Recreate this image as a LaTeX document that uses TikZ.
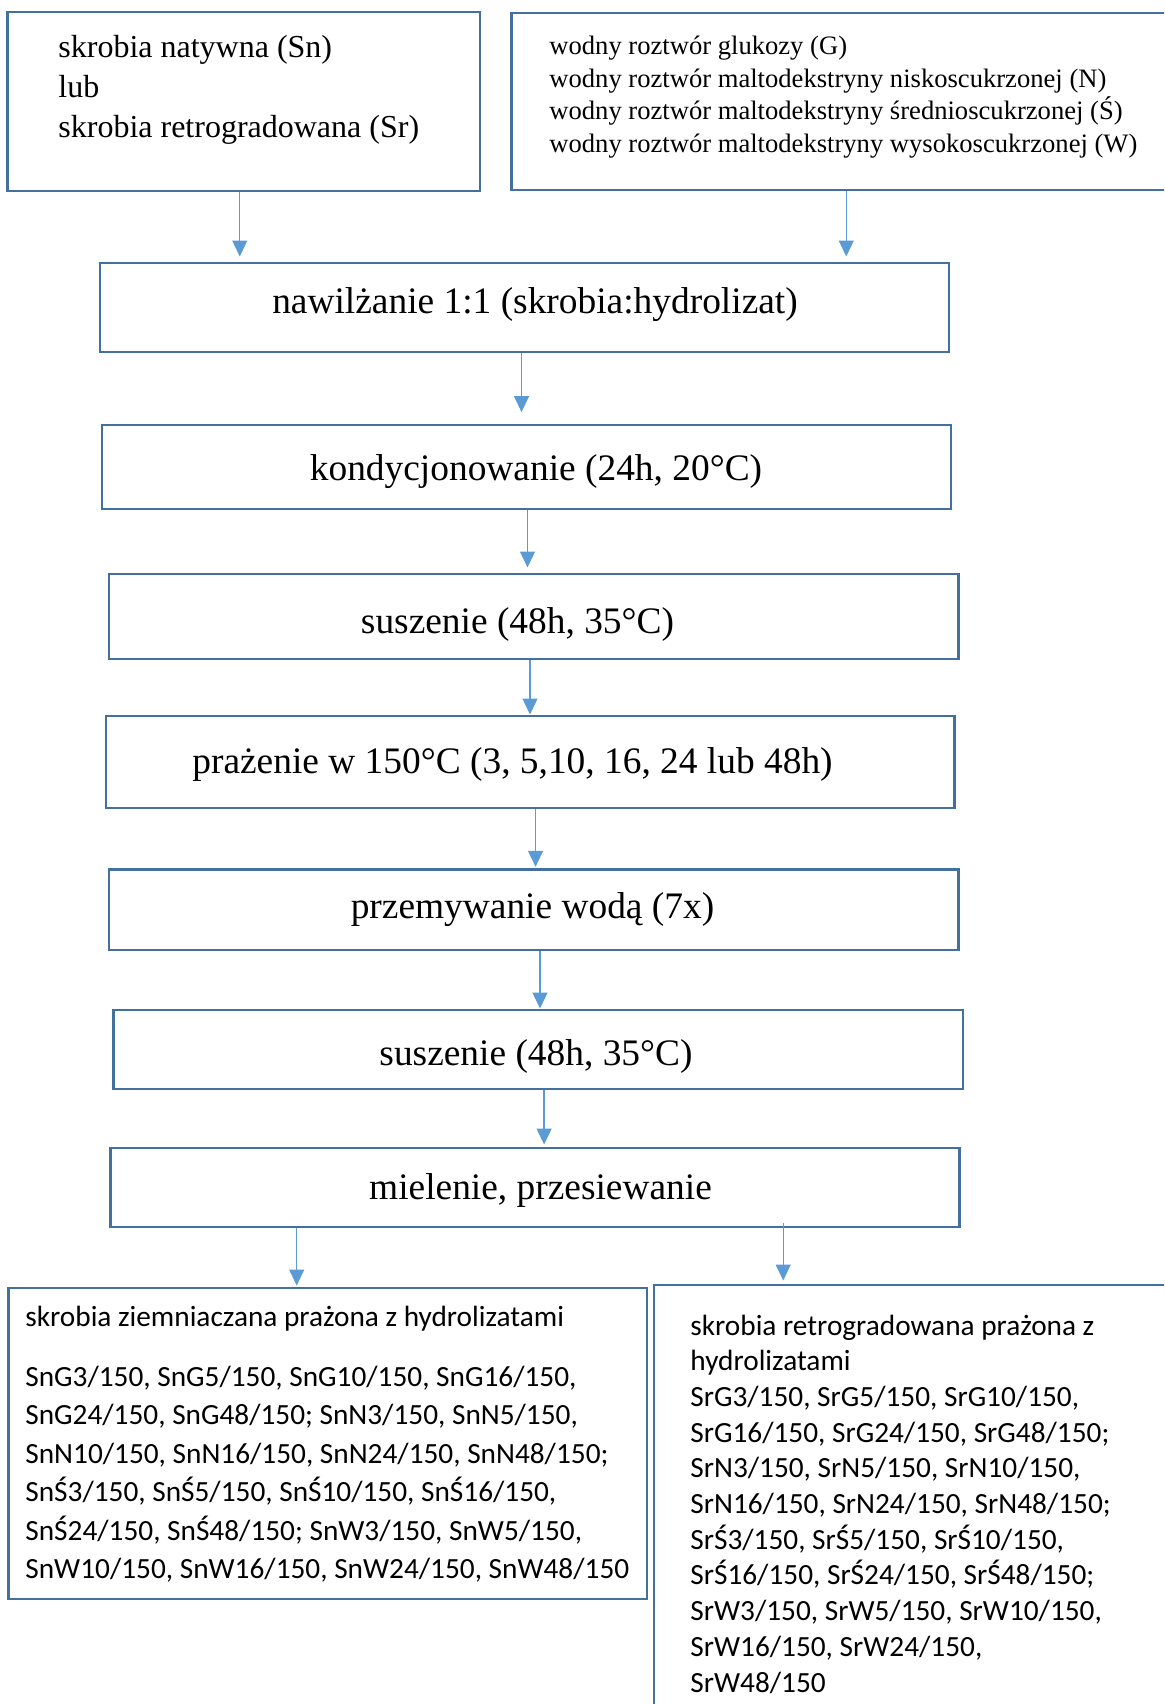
\documentclass[tikz,border=0pt]{standalone}
\usepackage{fontspec}
\usetikzlibrary{arrows.meta,calc}
\newfontfamily\tmsfont{Liberation Serif}
\newfontfamily\calibfont{Carlito}
\definecolor{boxc}{HTML}{41719C}
\definecolor{arrc}{HTML}{5B9BD5}
\tikzset{
  box/.style={draw=boxc, line width=1.2pt, inner sep=0pt, rectangle},
  arr/.style={draw=arrc, line width=0.65pt, -{Triangle[length=8pt,width=7.5pt]}},
  ptxt/.style={anchor=base, inner sep=0pt, font=\tmsfont\fontsize{18.7pt}{22pt}\selectfont},
  tl/.style={anchor=base west, inner sep=0pt, font=\tmsfont\fontsize{16pt}{19pt}\selectfont},
  tr/.style={anchor=base west, inner sep=0pt, font=\tmsfont\fontsize{13.3pt}{16pt}\selectfont},
  bt/.style={anchor=base west, inner sep=0pt, font=\calibfont\fontsize{14.65pt}{17.6pt}\selectfont}
}
\begin{document}
\begin{tikzpicture}[x=0.5pt,y=-0.5pt]
\useasboundingbox (0,0) rectangle (1164,1704);
\clip (0,0) rectangle (1164,1704);
% boxes
\node[box, minimum width=236.25pt, minimum height=89.5pt] (A) at (243.75,101.2) {};
\node[box, minimum width=334.25pt, minimum height=88.65pt] (B) at (845.75,101.35) {};
\node[box, minimum width=424.5pt, minimum height=44.5pt] (n1) at (524.5,307.2) {};
\node[box, minimum width=424.5pt, minimum height=42pt] (n2) at (526.3,467) {};
\node[box, minimum width=424.8pt, minimum height=42.5pt] (n3) at (533.5,616.5) {};
\node[box, minimum width=424.25pt, minimum height=46pt] (n4) at (530.05,761.7) {};
\node[box, minimum width=424.8pt, minimum height=40.35pt] (n5) at (533.5,909.65) {};
\node[box, minimum width=424.8pt, minimum height=39.65pt] (n6) at (538.1,1049.35) {};
\node[box, minimum width=424.55pt, minimum height=39.5pt] (n7) at (534.95,1187.5) {};
\node[box, minimum width=319.25pt, minimum height=155.5pt] (L) at (327.75,1443.5) {};
\node[box, minimum width=263pt, minimum height=217.5pt] (R) at (917,1502.5) {};
% top-left text
\node[tl] (a1) at (58,57) {skrobia natywna (Sn)};
\node[tl] (a2) at (58,97) {lub};
\node[tl] (a3) at (58,137) {skrobia retrogradowana (Sr)};
% top-right text
\node[tr] (b1) at (549,54) {wodny roztwór glukozy (G)};
\node[tr] (b2) at (549,87) {wodny roztwór maltodekstryny niskoscukrzonej (N)};
\node[tr] (b3) at (549,119.5) {wodny roztwór maltodekstryny średnioscukrzonej (Ś)};
\node[tr] (b4) at (549,152) {wodny roztwór maltodekstryny wysokoscukrzonej (W)};
% process texts
\node[ptxt] (t1) at (535,313) {nawilżanie 1:1 (skrobia:hydrolizat)};
\node[ptxt] (t2) at (536,480) {kondycjonowanie (24h, 20°C)};
\node[ptxt] (t3) at (517.5,633) {suszenie (48h, 35°C)};
\node[ptxt] (t4) at (512.5,773) {prażenie w 150°C (3, 5,10, 16, 24 lub 48h)};
\node[ptxt] (t5) at (532.5,918) {przemywanie wodą (7x)};
\node[ptxt] (t6) at (536,1065) {suszenie (48h, 35°C)};
\node[ptxt] (t7) at (540.5,1199) {mielenie, przesiewanie};
% bottom-left text
\node[bt] (l0) at (25,1326) {skrobia ziemniaczana prażona z hydrolizatami};
\node[bt] (l1) at (25,1386) {SnG3/150, SnG5/150, SnG10/150, SnG16/150,};
\node[bt] (l2) at (25,1424.5) {SnG24/150, SnG48/150; SnN3/150, SnN5/150,};
\node[bt] (l3) at (25,1463) {SnN10/150, SnN16/150, SnN24/150, SnN48/150;};
\node[bt] (l4) at (25,1501.5) {SnŚ3/150, SnŚ5/150, SnŚ10/150, SnŚ16/150,};
\node[bt] (l5) at (25,1540) {SnŚ24/150, SnŚ48/150; SnW3/150, SnW5/150,};
\node[bt] (l6) at (25,1578.5) {SnW10/150, SnW16/150, SnW24/150, SnW48/150};
% bottom-right text
\node[bt] (r0) at (690,1335) {skrobia retrogradowana prażona z};
\node[bt] (r1) at (690,1370.7) {hydrolizatami};
\node[bt] (r2) at (690,1406.4) {SrG3/150, SrG5/150, SrG10/150,};
\node[bt] (r3) at (690,1442.1) {SrG16/150, SrG24/150, SrG48/150;};
\node[bt] (r4) at (690,1477.8) {SrN3/150, SrN5/150, SrN10/150,};
\node[bt] (r5) at (690,1513.5) {SrN16/150, SrN24/150, SrN48/150;};
\node[bt] (r6) at (690,1549.2) {SrŚ3/150, SrŚ5/150, SrŚ10/150,};
\node[bt] (r7) at (690,1584.9) {SrŚ16/150, SrŚ24/150, SrŚ48/150;};
\node[bt] (r8) at (690,1620.6) {SrW3/150, SrW5/150, SrW10/150,};
\node[bt] (r9) at (690,1656.3) {SrW16/150, SrW24/150,};
\node[bt] (r10) at (690,1692) {SrW48/150};
% connector start points
\coordinate (sA) at ($(A.south)+(-4,0)$);
\coordinate (sB) at ($(B.south)+(0.5,0)$);
\coordinate (s1) at ($(n1.south)+(-3,0)$);
\coordinate (s2) at ($(n2.south)+(1.2,0)$);
\coordinate (s3) at ($(n3.south)+(-3.5,0)$);
\coordinate (s4) at ($(n4.south)+(5.5,0)$);
\coordinate (s5) at ($(n5.south)+(6.5,0)$);
\coordinate (s6) at ($(n6.south)+(6,0)$);
\coordinate (s7) at ($(n7.south)+(-238.25,0)$);
\coordinate (s8) at ($(n7.south)+(248.25,-5)$);
% connectors
\draw[arr, shorten >=2.5pt] (sA) -- (sA |- n1.north);
\draw[arr, shorten >=2.5pt] (sB) -- (sB |- n1.north);
\draw[arr, shorten >=5.85pt] (s1) -- (s1 |- n2.north);
\draw[arr, shorten >=2.65pt] (s2) -- (s2 |- n3.north);
\draw[arr] (s3) -- (s3 |- n4.north);
\draw[arr, shorten >=0.65pt] (s4) -- (s4 |- n5.north);
\draw[arr] (s5) -- (s5 |- n6.north);
\draw[arr, shorten >=1.15pt] (s6) -- (s6 |- n7.north);
\draw[arr, shorten >=0.65pt] (s7) -- (s7 |- L.north);
\draw[arr, shorten >=1.65pt] (s8) -- (s8 |- R.north);
\end{tikzpicture}
\end{document}
